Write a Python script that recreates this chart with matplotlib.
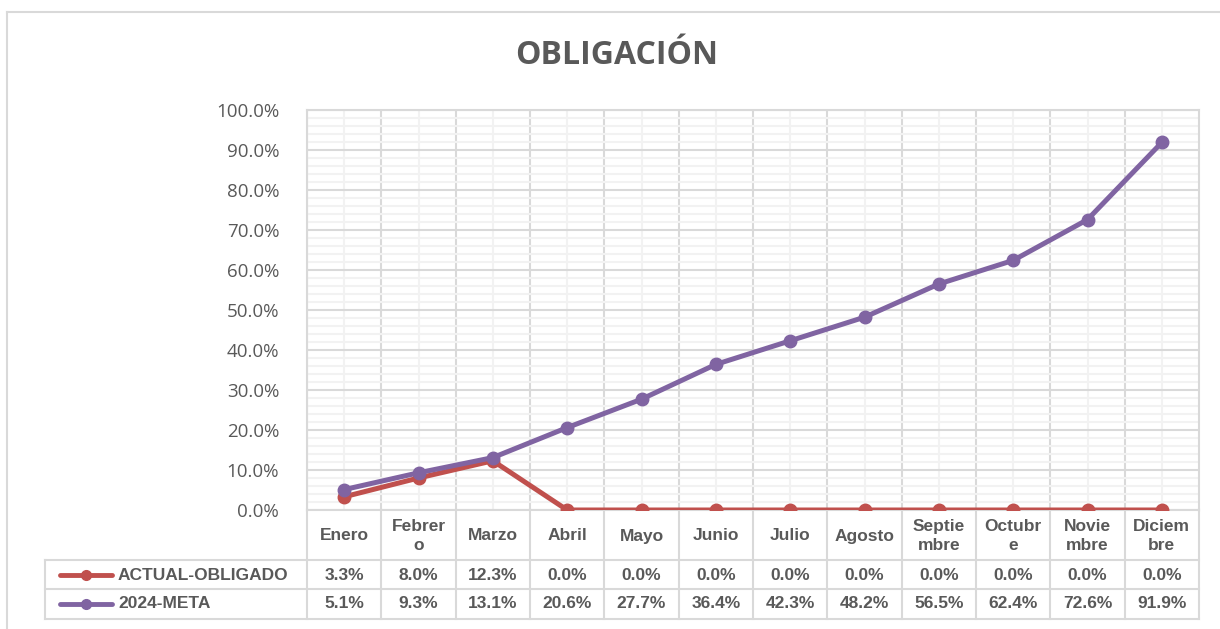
import numpy as np
import matplotlib
matplotlib.use("Agg")
import matplotlib.pyplot as plt
from matplotlib.lines import Line2D
from matplotlib.ticker import MultipleLocator, FuncFormatter

# data
months = ["Enero", "Febrer\no", "Marzo", "Abril", "Mayo", "Junio", "Julio",
          "Agosto", "Septie\nmbre", "Octubr\ne", "Novie\nmbre", "Diciem\nbre"]
actual = [3.3, 8.0, 12.3, 0.0, 0.0, 0.0, 0.0, 0.0, 0.0, 0.0, 0.0, 0.0]
meta = [5.1, 9.3, 13.1, 20.6, 27.7, 36.4, 42.3, 48.2, 56.5, 62.4, 72.6, 91.9]
series_names = ["ACTUAL-OBLIGADO", "2024-META"]
series_colors = ["#C0504D", "#8064A2"]

plt.rcParams['font.family'] = ['Open Sans', 'DejaVu Sans']

W, H = 1220, 629
fig = plt.figure(figsize=(W / 100, H / 100), dpi=100)
L, R, T, B = 307, 1199, 110, 510
ax = fig.add_axes([L / W, 1 - B / H, (R - L) / W, (B - T) / H])

text_col = "#595959"
grid_major = "#D9D9D9"
grid_minor = "#F2F2F2"

x = np.arange(len(months))
ax.set_xlim(-0.5, len(months) - 0.5)
ax.set_ylim(0, 100)

# grid
ax.yaxis.set_major_locator(MultipleLocator(10))
ax.yaxis.set_minor_locator(MultipleLocator(2))
ax.set_xticks(x - 0.5, minor=False)
ax.set_xticks(x, minor=True)
ax.grid(which="minor", color=grid_minor, lw=1.5, zorder=0)
ax.grid(which="major", color=grid_major, lw=1.5, zorder=0)
ax.set_axisbelow(True)
ax.tick_params(axis="both", which="both", length=0)
ax.set_xticklabels([])
ax.yaxis.set_major_formatter(FuncFormatter(lambda v, p: "%.1f%%" % v))
ax.tick_params(axis="y", pad=20, labelsize=13.5, labelcolor=text_col)
for s in ["top", "right", "left", "bottom"]:
    ax.spines[s].set_color(grid_major)
    ax.spines[s].set_linewidth(1.5)

ax.plot(x, actual, color=series_colors[0], lw=3.6, marker="o", ms=9, zorder=3)
ax.plot(x, meta, color=series_colors[1], lw=3.6, marker="o", ms=9, zorder=4)

# data table below the axes
ah = B - T
def fy(py):
    return -(py - B) / ah

def fx(px):
    return (px - L) / (R - L)

tr = ax.transAxes
y_head = fy(560)
y_r1 = fy(589)
y_r2 = fy(619)
x_left = fx(45)
line_kw = dict(color=grid_major, lw=1.5, transform=tr, clip_on=False)
for yy in [y_head, y_r1, y_r2]:
    ax.add_line(Line2D([x_left, 1], [yy, yy], **line_kw))
ax.add_line(Line2D([x_left, x_left], [y_head, y_r2], **line_kw))
for k in range(len(months) + 1):
    xf = k / len(months)
    ax.add_line(Line2D([xf, xf], [0, y_r2], **line_kw))

tbl_font = dict(fontfamily="Liberation Sans", fontweight="bold", fontsize=12.5,
                color=text_col, ha="center", va="center", clip_on=False)
blend = matplotlib.transforms.blended_transform_factory(ax.transData, tr)
for i, m in enumerate(months):
    ax.text(x[i], fy(536), m, transform=blend, linespacing=1.35, **tbl_font)
    ax.text(x[i], fy(575), "%.1f%%" % actual[i], transform=blend, **tbl_font)
    ax.text(x[i], fy(604), "%.1f%%" % meta[i], transform=blend, **tbl_font)

for name, col, py in zip(series_names, series_colors, [575, 604]):
    ax.add_line(Line2D([fx(60), fx(112)], [fy(py), fy(py)], color=col, lw=3.5,
                       transform=tr, clip_on=False, solid_capstyle="round"))
    ax.add_line(Line2D([fx(86)], [fy(py)], color=col, marker="o", ms=7,
                       transform=tr, clip_on=False))
    ax.text(fx(118), fy(py), name, transform=tr, fontfamily="Liberation Sans",
            fontweight="bold", fontsize=12.5, color=text_col, ha="left",
            va="center", clip_on=False)

# title
fig.text(617 / W, 1 - 56 / H, "OBLIGACIÓN", fontfamily="Open Sans",
         fontweight="bold", fontsize=23, color=text_col, ha="center", va="center")

# outer chart border
fig.add_artist(Line2D([7 / W, 7 / W], [0, 1 - 12 / H], color=grid_major, lw=1.5,
                      transform=fig.transFigure))
fig.add_artist(Line2D([7 / W, 1], [1 - 12 / H, 1 - 12 / H], color=grid_major, lw=1.5,
                      transform=fig.transFigure))

fig.savefig("out.png", dpi=100)
